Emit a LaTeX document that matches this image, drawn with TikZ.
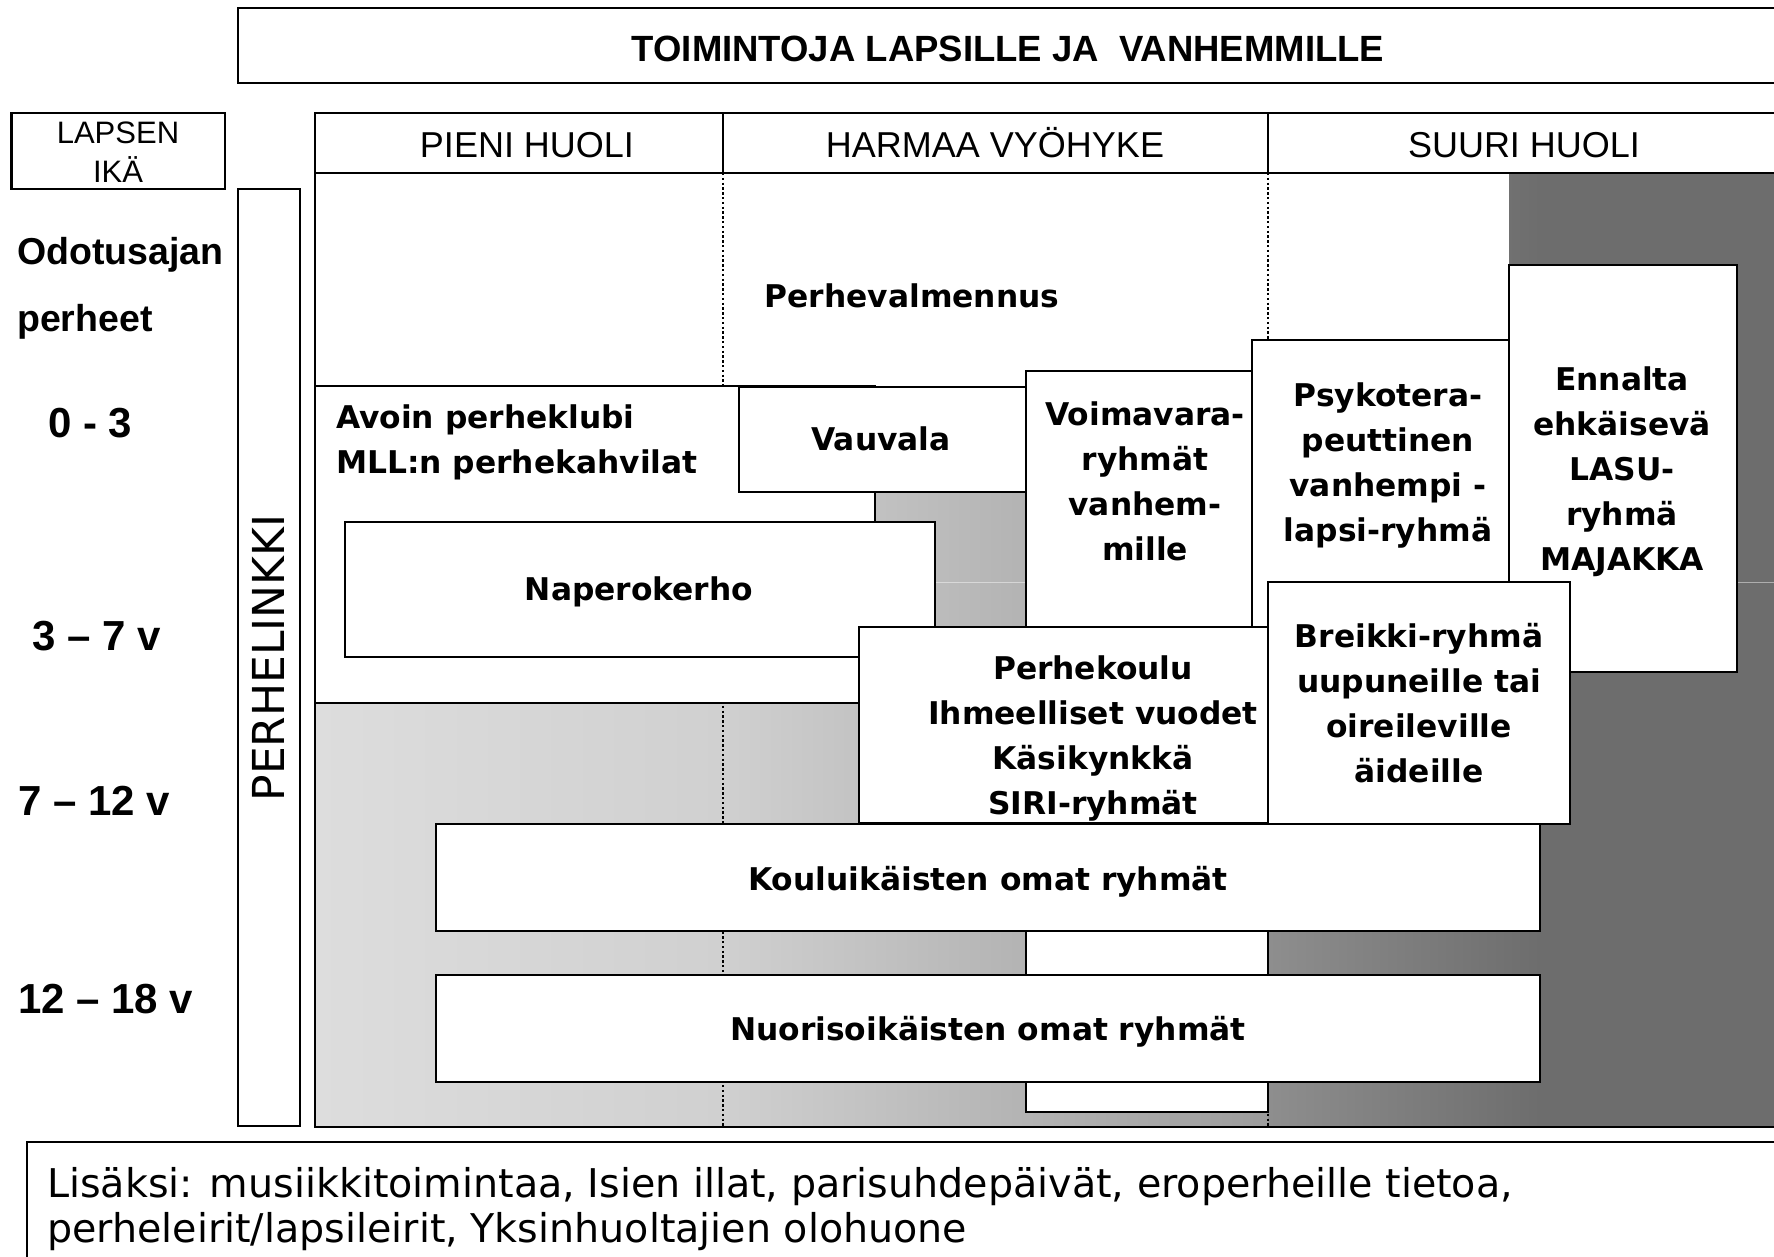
\documentclass[tikz,border=0pt]{standalone}
\usepackage{fontspec}
\setmainfont{Liberation Sans}
\newfontfamily\comicf{DejaVu Sans}
\definecolor{gA}{HTML}{DDDDDD}
\definecolor{gB}{HTML}{D0D0D0}
\definecolor{gC}{HTML}{9C9C9C}
\definecolor{gD}{HTML}{8E8E8E}
\definecolor{gE}{HTML}{6D6D6D}
\tikzset{
  box/.style={draw=black, line width=2.9pt, fill=white},
  frame/.style={draw=black, line width=2.9pt},
  dotline/.style={draw=black, line width=1.6pt, dash pattern=on 2.4pt off 2.4pt},
  btxt/.style={font=\comicf\bfseries\fontsize{31.3}{45}\selectfont, align=center, inner sep=0pt},
  agelbl/.style={font=\bfseries\fontsize{42}{50}\selectfont, anchor=base west, inner sep=0pt},
  sidelbl/.style={font=\bfseries\fontsize{37.5}{44}\selectfont, anchor=base west, inner sep=0pt},
  headlbl/.style={font=\fontsize{36}{40}\selectfont, anchor=base, inner sep=0pt},
  notelbl/.style={font=\comicf\fontsize{39.6}{45}\selectfont, anchor=base west, inner sep=0pt}
}
\begin{document}
\begin{tikzpicture}[x=1pt,y=-1pt]
\useasboundingbox (0,0) rectangle (1774,1257);
\clip (0,0) rectangle (1774,1257);
\fill[white] (0,0) rectangle (1774,1257);

% background gradients of the body
\shade[left color=gA, right color=gB] (315,173) rectangle (723.5,1127);
\shade[left color=gB, right color=gC] (723,173) rectangle (1268.5,1127);
\shade[left color=gD, right color=gE] (1268,173) rectangle (1540.5,1127);
\fill[gE] (1540,173) rectangle (1790,1127);
\draw[white, opacity=0.45, line width=1pt] (315,582) -- (1790,582);

% white upper area (Perhevalmennus)
\fill[white] (315,173) rectangle (1509,386);

% dotted column lines
\draw[dotline] (723,173) -- (723,1127);
\draw[dotline] (1268,173) -- (1268,1127);

% boxes, back to front
\draw[box] (315,386) rectangle (875,703);
\draw[box] (739,387) rectangle (1026,492);
\draw[box] (345,522) rectangle (935,657);
\draw[box] (1026,371) rectangle (1268,1112);
\draw[box] (1252,340) rectangle (1509,720);
\draw[box] (1509,265) rectangle (1737,672);
\draw[box] (1268,582) rectangle (1570,824);
\draw[box] (859,627) rectangle (1268,823);
\draw[box] (436,824) rectangle (1540,931);
\draw[box] (436,975) rectangle (1540,1082);

% frames
\draw[frame] (315,113) rectangle (1790,1127);
\draw[frame] (315,173) -- (1790,173);
\draw[frame] (723,113) -- (723,173);
\draw[frame] (1268,113) -- (1268,173);
\draw[frame] (238,8) rectangle (1790,83);
\draw[frame] (11.5,113) rectangle (225,189);
\draw[frame] (238,189) rectangle (300,1126);
\draw[frame] (27,1142) rectangle (1790,1280);

% titles
\node[headlbl, font=\bfseries\fontsize{36.5}{40}\selectfont] (title) at (1008,62) {TOIMINTOJA LAPSILLE JA\ \ VANHEMMILLE};
\node[headlbl] (pieni) at (527,158) {PIENI HUOLI};
\node[headlbl] (harmaa) at (995,158) {HARMAA VYÖHYKE};
\node[headlbl] (suuri) at (1524,158) {SUURI HUOLI};
\node[headlbl, font=\fontsize{31}{36}\selectfont] (lapsen) at (118,144) {LAPSEN};
\node[headlbl, font=\fontsize{31}{36}\selectfont] (ika) at (118,183) {IKÄ};

% left labels
\node[sidelbl] (odot) at (17,265) {Odotusajan};
\node[sidelbl] (perheet) at (17,331) {perheet};
\node[agelbl] (a03) at (48,437) {0 - 3};
\node[agelbl] (a37) at (32,650) {3 – 7 v};
\node[agelbl] (a712) at (18,815) {7 – 12 v};
\node[agelbl] (a1218) at (18,1013) {12 – 18 v};

\node[font=\comicf\fontsize{44}{50}\selectfont, rotate=90, inner sep=0pt] (linkki) at (268.5,658) {PERHELINKKI};

% box texts
\node[btxt] (perheval) at (912,296) {Perhevalmennus};
\node[btxt, align=left, anchor=west] (avoin) at (336,442) {Avoin perheklubi\\MLL:n perhekahvilat};
\node[btxt] (vauvala) at (881,439) {Vauvala};
\node[btxt] (voima) at (1145,481) {Voimavara-\\ryhmät\\vanhem-\\mille};
\node[btxt] (psyko) at (1388,465) {Psykotera-\\peuttinen\\vanhempi -\\lapsi-ryhmä};
\node[btxt] (ennalta) at (1622,472) {Ennalta\\ehkäisevä\\LASU-\\ryhmä\\MAJAKKA};
\node[btxt] (napero) at (639,592) {Naperokerho};
\node[btxt] (perhek) at (1093,738) {Perhekoulu\\Ihmeelliset vuodet\\Käsikynkkä\\SIRI-ryhmät};
\node[btxt] (breikki) at (1419,703) {Breikki-ryhmä\\uupuneille tai\\oireileville\\äideille};
\node[btxt] (koulu) at (988,882) {Kouluikäisten omat ryhmät};
\node[btxt] (nuoriso) at (988,1032) {Nuorisoikäisten omat ryhmät};

% note
\node[notelbl] (note1) at (47,1197) {Lisäksi: musiikkitoimintaa, Isien illat, parisuhdepäivät, eroperheille tietoa,};
\node[notelbl] (note2) at (47,1242) {perheleirit/lapsileirit, Yksinhuoltajien olohuone};
\end{tikzpicture}
\end{document}
